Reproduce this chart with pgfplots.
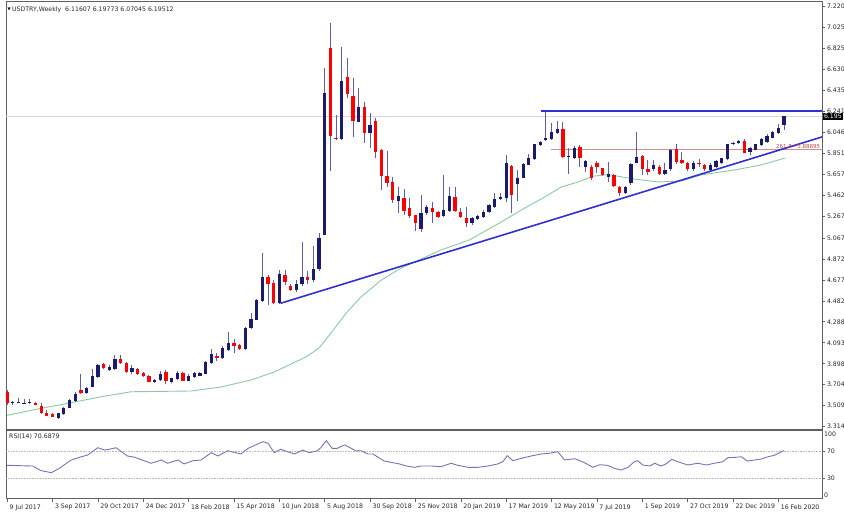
\documentclass[border=0pt]{standalone}
\usepackage{fontspec}
\setmainfont{DejaVu Sans}
\usepackage{pgfplots}
\usepackage{pgfplotstable}
\pgfplotsset{compat=1.18}
\definecolor{bullc}{HTML}{1B1B6E}
\definecolor{bearc}{HTML}{FF0000}
\definecolor{wickc}{HTML}{5E5EA0}
\definecolor{mac}{HTML}{8CC8A0}
\definecolor{rsic}{HTML}{7474B4}
\definecolor{trendc}{HTML}{3030D0}
\definecolor{fibc}{HTML}{D09090}
\definecolor{fibtext}{HTML}{C04848}
\definecolor{framec}{HTML}{606060}
\definecolor{pricec}{HTML}{D8D8D8}
\newcommand{\tf}{\fontsize{6.2bp}{7.4bp}\selectfont}

\pgfplotstableread{
w o h l c
0 3.639 3.654 3.515 3.530
1 3.534 3.552 3.515 3.540
2 3.535 3.577 3.530 3.540
3 3.530 3.567 3.524 3.534
4 3.530 3.567 3.525 3.543
5 3.530 3.540 3.512 3.518
6 3.506 3.530 3.431 3.438
7 3.438 3.468 3.413 3.416
8 3.428 3.440 3.400 3.406
9 3.397 3.445 3.382 3.438
10 3.431 3.500 3.425 3.490
11 3.490 3.570 3.485 3.561
12 3.552 3.639 3.545 3.617
13 3.654 3.803 3.615 3.623
14 3.623 3.685 3.615 3.676
15 3.685 3.846 3.680 3.787
16 3.778 3.895 3.770 3.886
17 3.892 3.908 3.846 3.861
18 3.840 3.885 3.830 3.871
19 3.846 3.979 3.840 3.942
20 3.942 3.979 3.895 3.902
21 3.902 3.910 3.815 3.824
22 3.824 3.886 3.803 3.855
23 3.846 3.860 3.795 3.803
24 3.809 3.824 3.778 3.784
25 3.784 3.790 3.725 3.732
26 3.728 3.760 3.720 3.747
27 3.747 3.830 3.740 3.803
28 3.824 3.840 3.710 3.741
29 3.731 3.770 3.720 3.762
30 3.753 3.830 3.745 3.815
31 3.815 3.825 3.735 3.741
32 3.741 3.800 3.735 3.784
33 3.778 3.825 3.770 3.809
34 3.787 3.820 3.780 3.809
35 3.803 3.920 3.800 3.917
36 3.902 4.032 3.895 3.985
37 3.970 3.995 3.927 3.948
38 3.948 4.060 3.940 4.047
39 4.026 4.193 4.020 4.094
40 4.088 4.124 4.001 4.066
41 4.072 4.085 4.025 4.035
42 4.032 4.235 4.025 4.227
43 4.227 4.372 4.220 4.310
44 4.304 4.500 4.300 4.490
45 4.484 4.923 4.475 4.700
46 4.700 4.722 4.443 4.638
47 4.645 4.676 4.455 4.465
48 4.465 4.768 4.455 4.728
49 4.722 4.768 4.629 4.660
50 4.622 4.640 4.570 4.585
51 4.585 4.680 4.560 4.640
52 4.640 5.030 4.620 4.700
53 4.700 4.760 4.640 4.680
54 4.680 4.990 4.660 4.780
55 4.780 5.110 4.760 5.070
56 5.093 6.641 5.090 6.409
57 6.827 7.059 5.688 6.016
58 5.998 6.208 5.976 5.995
59 5.985 6.836 5.980 6.527
60 6.558 6.734 6.369 6.403
61 6.384 6.548 6.007 6.155
62 6.146 6.462 6.140 6.285
63 6.279 6.325 5.951 6.038
64 6.044 6.223 5.898 6.115
65 6.155 6.183 5.805 5.861
66 5.883 5.890 5.511 5.638
67 5.641 5.874 5.542 5.579
68 5.583 5.635 5.394 5.422
69 5.409 5.536 5.295 5.456
70 5.440 5.521 5.279 5.316
71 5.341 5.440 5.248 5.270
72 5.279 5.280 5.131 5.202
73 5.149 5.465 5.124 5.295
74 5.295 5.370 5.280 5.357
75 5.348 5.397 5.202 5.304
76 5.310 5.320 5.250 5.264
77 5.273 5.651 5.260 5.326
78 5.316 5.542 5.310 5.456
79 5.449 5.542 5.310 5.316
80 5.310 5.341 5.248 5.264
81 5.254 5.357 5.171 5.202
82 5.202 5.260 5.190 5.248
83 5.242 5.280 5.230 5.273
84 5.257 5.326 5.250 5.310
85 5.304 5.380 5.300 5.372
86 5.350 5.487 5.340 5.425
87 5.428 5.480 5.420 5.443
88 5.434 5.836 5.403 5.759
89 5.734 5.740 5.295 5.465
90 5.564 5.697 5.409 5.620
91 5.626 5.760 5.620 5.753
92 5.743 5.842 5.740 5.805
93 5.796 5.940 5.790 5.935
94 5.929 5.969 5.920 5.954
95 5.976 6.245 5.970 5.991
96 5.982 6.130 5.975 6.047
97 6.038 6.152 6.030 6.078
98 6.075 6.145 5.810 5.821
99 5.826 5.898 5.660 5.829
100 5.805 5.920 5.800 5.898
101 5.908 5.930 5.728 5.805
102 5.728 5.790 5.680 5.781
103 5.728 5.740 5.601 5.620
104 5.765 5.784 5.666 5.728
105 5.713 5.720 5.640 5.651
106 5.635 5.774 5.589 5.660
107 5.651 5.660 5.540 5.549
108 5.542 5.550 5.460 5.480
109 5.480 5.550 5.470 5.542
110 5.573 5.760 5.560 5.750
111 5.765 6.053 5.760 5.815
112 5.830 5.840 5.650 5.703
113 5.703 5.790 5.650 5.682
114 5.703 5.790 5.690 5.743
115 5.728 5.740 5.650 5.660
116 5.660 5.759 5.650 5.697
117 5.703 5.890 5.690 5.883
118 5.889 5.935 5.757 5.774
119 5.790 5.867 5.757 5.765
120 5.765 5.770 5.690 5.703
121 5.703 5.780 5.690 5.765
122 5.765 5.796 5.722 5.750
123 5.744 5.750 5.690 5.703
124 5.697 5.760 5.690 5.744
125 5.728 5.790 5.720 5.781
126 5.759 5.810 5.750 5.805
127 5.796 5.940 5.790 5.935
128 5.935 5.960 5.930 5.951
129 5.945 5.980 5.940 5.969
130 5.969 5.982 5.852 5.858
131 5.867 5.914 5.836 5.898
132 5.883 5.940 5.880 5.935
133 5.929 5.990 5.920 5.982
134 5.960 6.030 5.950 6.016
135 5.997 6.062 5.990 6.047
136 6.038 6.124 6.030 6.084
137 6.11607 6.19773 6.07045 6.19512
}\candles

\pgfplotstableread{
w p
0 3.419
6 3.484
10.7 3.530
16.6 3.592
21.9 3.638
25.4 3.640
32.5 3.645
37.7 3.682
43.0 3.747
47.1 3.821
50.1 3.896
52.7 3.961
55.0 4.044
57.1 4.183
59.8 4.369
62.4 4.518
66.0 4.676
69.5 4.787
73.0 4.871
76.5 4.954
81.5 5.047
87.1 5.214
90.7 5.326
95.1 5.456
97.7 5.539
100.7 5.586
103.4 5.640
106.0 5.655
110.6 5.613
114.8 5.586
118.9 5.595
122.4 5.651
128.2 5.697
133.0 5.744
137.2 5.808
}\ma

\pgfplotstableread{
w v
0 49.0
4.5 48.0
6 41.2
7.8 38.2
9.2 44.6
11.3 56.8
13.1 61.6
14.2 64.1
16.0 74.8
17.2 71.4
18.0 72.5
19.2 74.8
21.2 62.7
22.5 60.8
25.4 52.0
27.2 56.8
28.3 52.0
30.1 56.8
31.2 51.0
32.8 55.8
34.2 56.8
36.0 67.5
37.2 62.7
38.9 70.4
41.2 65.6
42.5 73.9
45.1 83.6
46.0 81.3
47.1 67.5
48.2 72.5
50.7 65.6
52.1 71.4
53.3 67.5
54.7 70.4
55.3 74.8
56.3 85.1
57.3 73.9
58.2 73.9
59.5 78.8
61.6 70.0
62.4 70.4
63.6 65.6
64.5 65.6
66.5 55.3
68.0 52.9
69.2 51.0
70.4 48.0
71.8 46.1
73.0 48.0
74.8 48.0
76.5 47.0
78.3 52.0
79.5 49.0
81.3 46.1
83.0 46.1
84.8 48.0
86.5 51.0
87.4 54.3
88.2 63.1
89.2 55.8
90.7 59.3
92.4 62.7
94.2 65.6
95.6 66.6
97.1 69.0
98.3 56.8
100.1 58.7
101.8 52.9
103.3 46.1
104.5 49.9
105.9 49.0
107.1 44.6
108.3 42.2
109.5 46.1
110.6 54.3
111.2 55.8
112.1 49.5
113.3 48.0
114.2 52.0
115.3 48.0
116.2 51.0
117.2 57.8
118.3 54.3
120.0 49.5
121.8 52.0
123.3 49.5
124.7 52.0
126.2 54.3
127.1 60.2
128.6 60.8
129.5 61.6
130.5 55.3
131.8 56.8
133.0 58.3
134.2 61.6
135.3 63.7
137 70.69
}\rsi

\begin{document}
\begin{tikzpicture}
\path[use as bounding box] (0,0) rectangle (844bp,514bp);
\begin{axis}[
  at={(6bp,84.5bp)}, anchor=south west, scale only axis,
  width=816bp, height=428.5bp,
  xmin=-0.2, xmax=143.7, ymin=3.2874, ymax=7.2664,
  axis line style={draw=framec, line width=0.8bp},
  xtick=\empty,
  ytick={3.314,3.509,3.704,3.898,4.093,4.288,4.482,4.677,4.872,5.067,5.267,5.462,5.657,5.851,6.046,6.241,6.435,6.630,6.825,7.025,7.220},
  yticklabels={3.314,3.509,3.704,3.898,4.093,4.288,4.482,4.677,4.872,5.067,5.267,5.462,5.657,5.851,6.046,6.241,6.435,6.630,6.825,7.025,7.220},
  ytick pos=right, yticklabel pos=right,
  tick align=outside, major tick length=3bp,
  tick style={draw=framec, line width=0.5bp},
  yticklabel style={font=\tf, text=black!85, xshift=-1.5bp},
  /pgf/number format/assume math mode=true,
  clip mode=individual,
  candle/.style={draw=none, mark=none, error bars/.cd, y dir=minus, y explicit, error mark=none},
]
\addplot[pricec, line width=1.3bp, forget plot] coordinates {(-1,6.19512) (150,6.19512)};
\addplot[mac, line width=0.9bp] table[x=w, y=p] {\ma};
\addplot[fibc, line width=1.3bp] coordinates {(95.9,5.88895) (150,5.88895)};
\addplot[candle, error bar style={line width=0.9bp, draw=wickc}]
  table[x=w, y=h, y error minus expr={\thisrow{h}-\thisrow{l}}] {\candles};
\addplot[candle, error bar style={line width=3.3bp, draw=bullc}, /pgfplots/restrict expr to domain={\thisrow{c}-\thisrow{o}}{0:100}]
  table[x=w, y=c, y error minus expr={max(\thisrow{c}-\thisrow{o},0.008)}] {\candles};
\addplot[candle, error bar style={line width=3.3bp, draw=bearc}, /pgfplots/restrict expr to domain={\thisrow{c}-\thisrow{o}}{-100:0}]
  table[x=w, y=o, y error minus expr={max(\thisrow{o}-\thisrow{c},0.008)}] {\candles};
\addplot[trendc, line width=1.6bp] coordinates {(48.2,4.459) (143.7,6.004)};
\addplot[trendc, line width=1.6bp] coordinates {(94.2,6.245) (143.7,6.245)};
\node[anchor=south east, font=\fontsize{5.5bp}{6bp}\selectfont, text=fibtext, inner sep=0.6bp] at (axis cs:143.5,5.8895) {261.8 -\ 5.88895};
\node[anchor=north west, font=\tf, text=black!85, inner sep=0pt] at (rel axis cs:0,1) [xshift=6bp, yshift=-5.5bp] {USDTRY,Weekly\ \ 6.11607 6.19773 6.07045 6.19512};
\node[anchor=north west, inner sep=0pt, font=\fontsize{4bp}{4bp}\selectfont] at (rel axis cs:0,1) [xshift=1.5bp, yshift=-6.5bp] {▼};
\coordinate (pb) at (axis cs:143.7,6.19512);
\end{axis}
\node[fill=black, text=white, font=\tf, inner sep=1bp, anchor=west] at ([xshift=0.8bp]pb) {6.195};

\begin{axis}[
  at={(6bp,15.2bp)}, anchor=south west, scale only axis,
  width=816bp, height=68.3bp,
  xmin=-0.2, xmax=143.7, ymin=0, ymax=100,
  axis line style={draw=framec, line width=0.8bp},
  xtick={0,8,16,24,32,40,48,56,64,72,80,88,96,104,112,120,128,136},
  xticklabels={9 Jul 2017,3 Sep 2017,29 Oct 2017,24 Dec 2017,18 Feb 2018,15 Apr 2018,10 Jun 2018,5 Aug 2018,30 Sep 2018,25 Nov 2018,20 Jan 2019,17 Mar 2019,12 May 2019,7 Jul 2019,1 Sep 2019,27 Oct 2019,22 Dec 2019,16 Feb 2020},
  xtick pos=bottom,
  ytick={30,70}, yticklabels={30,70},
  ytick pos=right, yticklabel pos=right,
  tick align=outside, major tick length=3bp,
  tick style={draw=framec, line width=0.5bp},
  yticklabel style={font=\tf, text=black!85, xshift=-1.5bp},
  xticklabel style={font=\tf, text=black!85, anchor=north west, xshift=-1bp, yshift=1bp},
  /pgf/number format/assume math mode=true,
  clip mode=individual,
]
\addplot[gray!55, densely dotted, line width=0.6bp] coordinates {(-1,70) (150,70)};
\addplot[gray!55, densely dotted, line width=0.6bp] coordinates {(-1,30) (150,30)};
\addplot[rsic, line width=0.9bp] table[x=w, y=v] {\rsi};
\node[anchor=north west, font=\tf, text=black!85, inner sep=0pt] at (rel axis cs:0,1) [xshift=3bp, yshift=-3bp] {RSI(14) 70.6879};
\node[anchor=north west, font=\tf, text=black!85, inner sep=0pt] at (rel axis cs:1,1) [xshift=2bp, yshift=-1bp] {100};
\node[anchor=south west, font=\tf, text=black!85, inner sep=0pt] at (rel axis cs:1,0) [xshift=2bp, yshift=1.5bp] {0};
\end{axis}
\end{tikzpicture}
\end{document}
